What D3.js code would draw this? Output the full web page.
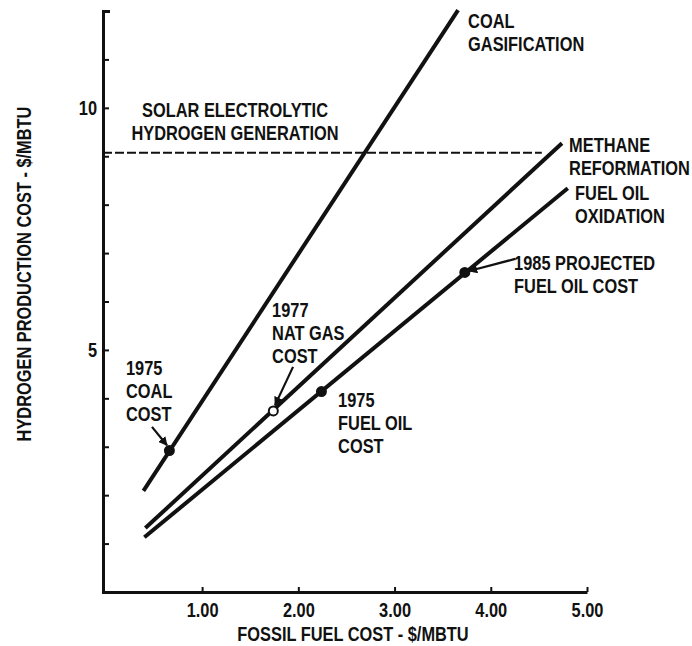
<!DOCTYPE html>
<html>
<head>
<meta charset="utf-8">
<script src="https://cdn.jsdelivr.net/npm/d3@7"></script>
<style>
  html, body { margin: 0; padding: 0; background: #fff; }
  svg { display: block; }
  text { font-family: "Liberation Sans", Arial, sans-serif; font-weight: bold; fill: #111; }
</style>
</head>
<body>
<svg id="chart" width="692" height="646"></svg>
<script>
// ---- Data ----
const coalGasX = [0.39, 3.66];
const coalGasY = [2.09, 12.02];
const methaneX = [0.41, 4.74];
const methaneY = [1.32, 9.27];
const fuelOilX = [0.40, 4.80];
const fuelOilY = [1.13, 8.34];
const solarLevel = 9.07;
const solarExtent = [-0.03, 4.53];
const pointNames = ["1975 coal", "1977 nat gas", "1975 fuel oil", "1985 fuel oil"];
const pointX = [0.66, 1.74, 2.24, 3.73];
const pointY = [2.92, 3.74, 4.14, 6.60];
const pointOpen = [false, true, false, false];
const xTicks = [1, 2, 3, 4, 5];
const yTicks = [1, 2, 3, 4, 5, 6, 7, 8, 9, 10, 11];
const yTickLabels = [5, 10];

const xTitle = "FOSSIL FUEL COST - $/MBTU";
const yTitle = "HYDROGEN PRODUCTION COST - $/MBTU";

// ---- Layout ----
const svg = d3.select("#chart");
const x = d3.scaleLinear().domain([-0.03, 5]).range([103, 587]);
const y = d3.scaleLinear().domain([0, 12]).range([592, 11]);

const FS = 21;       // annotation font size
const SX = 0.78;     // horizontal condensing of the typewriter-like face
const TFS = 20;      // tick font size
const TSX = 0.82;

// Axes
const xAxis = d3.axisBottom(x).tickValues(xTicks).tickFormat(d3.format(".2f"))
  .tickSizeInner(-5).tickSizeOuter(0).tickPadding(11);
const gx = svg.append("g").attr("transform", `translate(0,${y(0)})`).call(xAxis);
gx.select(".domain").attr("stroke", "#111").attr("stroke-width", 3);
gx.selectAll(".tick line").attr("stroke", "#111").attr("stroke-width", 2);
gx.selectAll(".tick text").style("font-size", TFS + "px").attr("fill", "#111")
  .attr("transform", `scale(${TSX},1)`);

const yAxis = d3.axisLeft(y).tickValues(yTicks)
  .tickFormat(d => yTickLabels.includes(d) ? d : "")
  .tickSizeInner(-6).tickSizeOuter(-7).tickPadding(6);
const gy = svg.append("g").attr("transform", `translate(${x(-0.03)},0)`).call(yAxis);
gy.select(".domain").attr("stroke", "#111").attr("stroke-width", 3);
gy.selectAll(".tick line").attr("stroke", "#111").attr("stroke-width", 2);
gy.selectAll(".tick text").style("font-size", TFS + "px").attr("fill", "#111")
  .attr("x", -6 / TSX).attr("transform", `scale(${TSX},1)`);

// Axis titles
svg.append("text").attr("transform", `translate(353,641) scale(${SX},1)`).attr("text-anchor", "middle")
  .style("font-size", FS + "px").text(xTitle);
svg.append("text").attr("transform", `translate(31,274) rotate(-90) scale(${SX},1)`).attr("text-anchor", "middle")
  .style("font-size", FS + "px").text(yTitle);

// Solar dashed line
svg.append("line")
  .attr("x1", x(solarExtent[0])).attr("x2", x(solarExtent[1]))
  .attr("y1", y(solarLevel)).attr("y2", y(solarLevel))
  .attr("stroke", "#111").attr("stroke-width", 2).attr("stroke-dasharray", "9,3");

// Cost lines
const series = [
  { xs: coalGasX, ys: coalGasY },
  { xs: methaneX, ys: methaneY },
  { xs: fuelOilX, ys: fuelOilY }
];
const line = d3.line().x(d => x(d[0])).y(d => y(d[1]));
series.forEach(s => {
  svg.append("path").datum(d3.zip(s.xs, s.ys)).attr("d", line)
    .attr("fill", "none").attr("stroke", "#111").attr("stroke-width", 4);
});

// Arrow marker
svg.append("defs").append("marker").attr("id", "arr")
  .attr("viewBox", "0 0 10 10").attr("refX", 9).attr("refY", 5)
  .attr("markerWidth", 9).attr("markerHeight", 9).attr("markerUnits", "userSpaceOnUse")
  .attr("orient", "auto")
  .append("path").attr("d", "M0,0L10,5L0,10z").attr("fill", "#111");

// Annotation labels (anchored in data units)
const labels = [
  { x: 3.764, y: 11.65, lines: ["COAL", "GASIFICATION"], anchor: "start" },
  { x: 1.342, y: 9.81, lines: ["SOLAR ELECTROLYTIC", "HYDROGEN GENERATION"], anchor: "middle" },
  { x: 4.814, y: 9.087, lines: ["METHANE", "REFORMATION"], anchor: "start" },
  { x: 4.876, y: 8.096, lines: ["FUEL OIL", "OXIDATION"], anchor: "start" },
  { x: 4.242, y: 6.65, lines: ["1985 PROJECTED", "FUEL OIL COST"], anchor: "start" },
  { x: 0.209, y: 4.48, lines: ["1975", "COAL", "COST"], anchor: "start" },
  { x: 1.727, y: 5.68, lines: ["1977", "NAT GAS", "COST"], anchor: "start" },
  { x: 2.413, y: 3.82, lines: ["1975", "FUEL OIL", "COST"], anchor: "start" }
];
labels.forEach(l => {
  const t = svg.append("text")
    .attr("transform", `translate(${x(l.x)},${y(l.y)}) scale(${SX},1)`)
    .attr("text-anchor", l.anchor).style("font-size", FS + "px");
  l.lines.forEach((s, i) => {
    t.append("tspan").attr("x", 0).attr("dy", i === 0 ? 0 : 23).text(s);
  });
});

// Arrows
const arrows = [
  { from: [0.479, 3.41], to: [0.635, 3.03] },
  { from: [1.945, 4.65], to: [1.758, 3.86] },
  { from: [4.253, 6.88], to: [3.775, 6.63] }
];
arrows.forEach(a => {
  svg.append("line")
    .attr("x1", x(a.from[0])).attr("y1", y(a.from[1]))
    .attr("x2", x(a.to[0])).attr("y2", y(a.to[1]))
    .attr("stroke", "#111").attr("stroke-width", 2.2).attr("marker-end", "url(#arr)");
});

// Points
svg.selectAll("circle.pt").data(pointX.map((v, i) => ({ x: v, y: pointY[i], open: pointOpen[i] })))
  .enter().append("circle").attr("class", "pt")
  .attr("cx", d => x(d.x)).attr("cy", d => y(d.y)).attr("r", 4.5)
  .attr("fill", d => d.open ? "#fff" : "#111")
  .attr("stroke", "#111").attr("stroke-width", 2);
</script>
</body>
</html>
